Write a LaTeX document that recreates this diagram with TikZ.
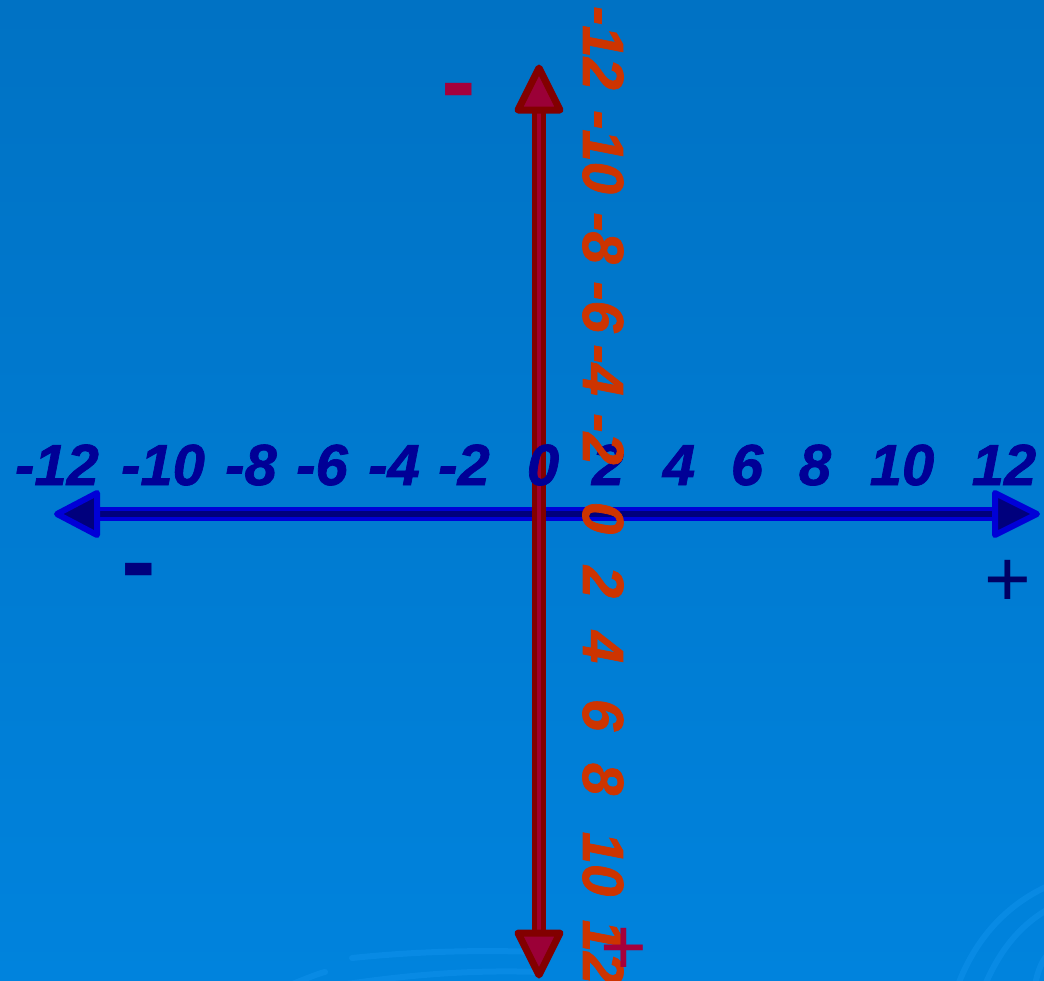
\documentclass[tikz,border=0pt]{standalone}
\usepackage{fontspec}
\setmainfont{Liberation Sans}
\newfontfamily\numfont{Liberation Sans Bold Italic}[FakeBold=1.2]
\begin{document}
\begin{tikzpicture}[x=1pt,y=-1pt,
  hlab/.style={anchor=base,text=hnum,font=\fontsize{58}{60}\numfont,inner sep=0pt},
  vlab/.style={anchor=base,rotate=-90,text=vnum,font=\fontsize{58}{60}\numfont,inner sep=0pt},
  minuslab/.style={anchor=base,font=\fontsize{104}{110}\selectfont\bfseries,inner sep=0pt},
  pluslab/.style={anchor=base,font=\fontsize{80}{84}\selectfont,inner sep=0pt},
  hshaftout/.style={draw=hblue,line width=14pt},
  hshaftin/.style={draw=hnavy,line width=6pt},
  hhead/.style={draw=hblue,fill=hnavy,line width=6pt,line join=round},
  vshaftout/.style={draw=vdark,line width=14pt},
  vshaftin/.style={draw=vmid,line width=4pt},
  vhead/.style={draw=vdark,fill=vfill,line width=7pt,line join=round},
  swirl/.style={draw=swirlc,line width=6pt,line cap=round,opacity=0.4}
]
\definecolor{bgtop}{RGB}{0,114,196}
\definecolor{bgbot}{RGB}{0,131,221}
\definecolor{swirlc}{RGB}{20,150,240}
\definecolor{hblue}{RGB}{0,0,215}
\definecolor{hnavy}{RGB}{0,0,125}
\definecolor{hnum}{RGB}{0,0,150}
\definecolor{vdark}{RGB}{130,0,0}
\definecolor{vmid}{RGB}{160,0,45}
\definecolor{vfill}{RGB}{155,0,55}
\definecolor{vnum}{RGB}{205,52,0}
\definecolor{crim}{RGB}{165,0,60}
\definecolor{navyl}{RGB}{0,0,125}
\definecolor{navyp}{RGB}{0,0,100}

% background
\useasboundingbox (0,0) rectangle (1044,980);
\shade[top color=bgtop,bottom color=bgbot] (0,0) rectangle (1044,980);
\draw[swirl] (290,985) .. controls (310,977) and (320,973) .. (325,972);
\draw[swirl] (352,958) .. controls (420,951) and (480,950) .. (540,952);
\draw[swirl] (340,985) .. controls (420,973) and (480,970) .. (540,972);
\draw[swirl] (958,985) .. controls (975,940) and (1005,905) .. (1050,885);
\draw[swirl] (985,985) .. controls (1000,950) and (1020,925) .. (1050,908);
\draw[swirl] (1035,985) .. controls (1038,970) and (1042,960) .. (1050,952);

% horizontal axis
\coordinate (xl) at (57,514);
\coordinate (xr) at (1037,514);
\coordinate (xlb) at (97,514);
\coordinate (xrb) at (995,514);
\draw[hshaftout] (xlb) -- (xrb);
\draw[hshaftin] (xlb) -- (xrb);
\draw[hhead] (xl) -- ([yshift=-21pt]xlb) -- ([yshift=21pt]xlb) -- cycle;
\draw[hhead] (xr) -- ([yshift=-21pt]xrb) -- ([yshift=21pt]xrb) -- cycle;

% vertical axis
\coordinate (yt) at (539,68);
\coordinate (yb) at (539,975);
\coordinate (ytb) at (539,110);
\coordinate (ybb) at (539,933);
\draw[vshaftout] (ytb) -- (ybb);
\draw[vshaftin] (ytb) -- (ybb);
\draw[vhead] (yt) -- ([xshift=-21pt]ytb) -- ([xshift=21pt]ytb) -- cycle;
\draw[vhead] (yb) -- ([xshift=-21pt]ybb) -- ([xshift=21pt]ybb) -- cycle;

% horizontal labels
\node[hlab] (hm12) at (57,485) {-12};
\node[hlab] (hm10) at (163,485) {-10};
\node[hlab] (hm8) at (251,485) {-8};
\node[hlab] (hm6) at (322,485) {-6};
\node[hlab] (hm4) at (394,485) {-4};
\node[hlab] (hm2) at (464,485) {-2};
\node[hlab] (h0) at (543,485) {0};
\node[hlab] (h2) at (608,485) {2};
\node[hlab] (h4) at (679,485) {4};
\node[hlab] (h6) at (747,485) {6};
\node[hlab] (h8) at (815,485) {8};
\node[hlab] (h10) at (902,485) {10};
\node[hlab] (h12) at (1004,485) {12};

% vertical labels
\node[vlab] (vm12) at (583,48) {-12};
\node[vlab] (vm10) at (583,152) {-10};
\node[vlab] (vm8) at (583,238) {-8};
\node[vlab] (vm6) at (583,307) {-6};
\node[vlab] (vm4) at (583,370) {-4};
\node[vlab] (vm2) at (583,439) {-2};
\node[vlab] (v0) at (583,518) {0};
\node[vlab] (v2) at (583,582) {2};
\node[vlab] (v4) at (583,647) {4};
\node[vlab] (v6) at (583,715) {6};
\node[vlab] (v8) at (583,779) {8};
\node[vlab] (v10) at (583,864) {10};
\node[vlab] (v12) at (583,952) {12};

% sign labels
\node[minuslab,text=crim] (ymin) at (459,116.8) {-};
\node[minuslab,text=navyl] (xmin) at (139,596.8) {-};
\node[pluslab,text=navyp] (xplus) at (1007.5,606.2) {+};
\node[pluslab,text=crim] (yplus) at (623.5,974.7) {+};
\end{tikzpicture}
\end{document}
